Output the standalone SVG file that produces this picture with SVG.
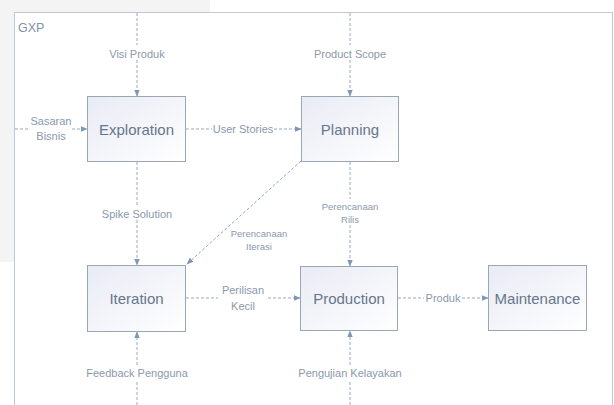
<svg xmlns="http://www.w3.org/2000/svg" width="614" height="405" viewBox="0 0 614 405">
<defs>
<linearGradient id="bg" x1="0" y1="0" x2="1" y2="1">
<stop offset="0" stop-color="#e9ebf5"/>
<stop offset="1" stop-color="#ffffff"/>
</linearGradient>
<marker id="ah" viewBox="0 0 10 10" refX="9" refY="5" markerWidth="7" markerHeight="7" orient="auto" markerUnits="userSpaceOnUse">
<path d="M0,1 L10,5 L0,9 Z" fill="#7f97b2"/>
</marker>
<style>
.box{fill:url(#bg);stroke:#9ba6b5;stroke-width:1}
.bt{font-family:"Liberation Sans",Arial,sans-serif;font-size:15px;fill:#66768c;text-anchor:middle}
.lt{font-family:"Liberation Sans",Arial,sans-serif;font-size:11px;fill:#8a99ab;text-anchor:middle}
.st{font-family:"Liberation Sans",Arial,sans-serif;font-size:9.5px;fill:#8a99ab;text-anchor:middle}
.c{fill:none;stroke:#98aabe;stroke-width:1;stroke-dasharray:3,2}
.ca{fill:none;stroke:#98aabe;stroke-width:1;stroke-dasharray:3,2;marker-end:url(#ah)}
</style>
</defs>
<rect x="0" y="0" width="614" height="405" fill="#ffffff"/>
<g id="watermark">
<polygon points="0,0 210,0 210,12 14,12 14,262 0,262" fill="#f4f4f5"/>
</g>
<g id="frame">
<rect x="14.5" y="12.5" width="598" height="400" fill="none" stroke="#bfc9d6" stroke-width="1"/>
<text x="18" y="32" font-family="Liberation Sans, Arial, sans-serif" font-size="12.5" fill="#8292a8">GXP</text>
</g>
<g id="connectors">
<line class="c" x1="137" y1="13" x2="137" y2="45"/>
<line class="ca" x1="137" y1="60" x2="137" y2="96"/>
<line class="c" x1="15" y1="129" x2="30" y2="129"/>
<line class="ca" x1="72" y1="129" x2="87" y2="129"/>
<line class="c" x1="186" y1="129" x2="212" y2="129"/>
<line class="ca" x1="274" y1="129" x2="301" y2="129"/>
<line class="c" x1="350" y1="13" x2="350" y2="45"/>
<line class="ca" x1="350" y1="60" x2="350" y2="96"/>
<line class="c" x1="137" y1="162" x2="137" y2="205"/>
<line class="ca" x1="137" y1="220" x2="137" y2="265"/>
<line class="ca" x1="301" y1="161" x2="187" y2="264"/>
<line class="c" x1="350" y1="162" x2="350" y2="199"/>
<line class="ca" x1="350" y1="225" x2="350" y2="266"/>
<line class="c" x1="186" y1="298" x2="218" y2="298"/>
<line class="ca" x1="268" y1="298" x2="300" y2="298"/>
<line class="c" x1="398" y1="298" x2="424" y2="298"/>
<line class="ca" x1="462" y1="298" x2="488" y2="298"/>
<line class="c" x1="137" y1="405" x2="137" y2="381"/>
<line class="ca" x1="137" y1="365" x2="137" y2="332"/>
<line class="c" x1="350" y1="405" x2="350" y2="381"/>
<line class="ca" x1="350" y1="365" x2="350" y2="331"/>
</g>
<g id="labels">
<text class="lt" x="137" y="58">Visi Produk</text>
<text class="lt" x="350" y="58">Product Scope</text>
<text class="lt" x="51" y="125" font-size="10.5">Sasaran</text>
<text class="lt" x="51" y="140" font-size="10.5">Bisnis</text>
<text class="lt" x="243" y="133">User Stories</text>
<text class="lt" x="137" y="218">Spike Solution</text>
<text class="st" x="259" y="237">Perencanaan</text>
<text class="st" x="259" y="250">Iterasi</text>
<text class="st" x="350" y="210">Perencanaan</text>
<text class="st" x="350" y="223">Rilis</text>
<text class="lt" x="243" y="294">Perilisan</text>
<text class="lt" x="243" y="310">Kecil</text>
<text class="lt" x="443" y="302">Produk</text>
<text class="lt" x="137" y="377">Feedback Pengguna</text>
<text class="lt" x="350" y="377">Pengujian Kelayakan</text>
</g>
<g id="exploration">
<rect class="box" x="87.5" y="96.5" width="98" height="65"/>
<text class="bt" x="136.5" y="134.5">Exploration</text>
</g>
<g id="planning">
<rect class="box" x="301.5" y="96.5" width="97" height="65"/>
<text class="bt" x="350" y="134.5">Planning</text>
</g>
<g id="iteration">
<rect class="box" x="87.5" y="265.5" width="98" height="66"/>
<text class="bt" x="136.5" y="303.5">Iteration</text>
</g>
<g id="production">
<rect class="box" x="300.5" y="266.5" width="97" height="64"/>
<text class="bt" x="349" y="303.5">Production</text>
</g>
<g id="maintenance">
<rect class="box" x="488.5" y="265.5" width="98" height="65"/>
<text class="bt" x="537.5" y="303.5">Maintenance</text>
</g>
</svg>
